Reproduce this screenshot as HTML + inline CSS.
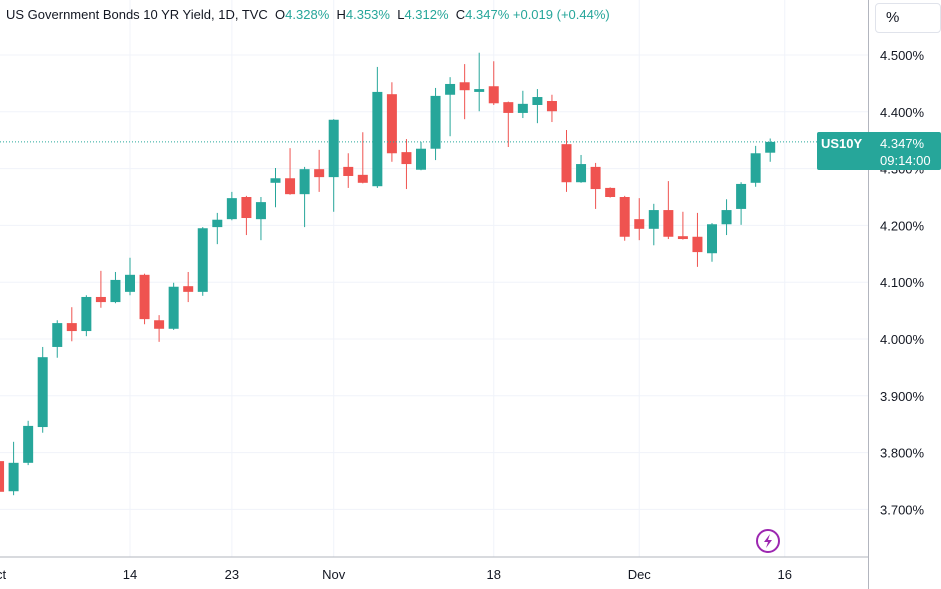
<!DOCTYPE html>
<html><head><meta charset="utf-8">
<style>
html,body{margin:0;padding:0;background:#fff;width:941px;height:589px;overflow:hidden;font-family:"Liberation Sans",sans-serif;}
#wrap{position:relative;width:941px;height:589px;}
svg{position:absolute;left:0;top:0;}
</style></head>
<body>
<div id="wrap">
<svg id="chart" width="941" height="589"></svg>
</div>
<script>
const opens  = [3.785,3.732,3.782,3.845,3.986,4.028,4.014,4.074,4.065,4.083,4.113,4.033,4.018,4.093,4.083,4.197,4.211,4.250,4.211,4.275,4.283,4.255,4.299,4.285,4.303,4.289,4.269,4.431,4.329,4.298,4.335,4.430,4.452,4.435,4.445,4.417,4.398,4.412,4.419,4.343,4.276,4.303,4.266,4.250,4.211,4.194,4.227,4.181,4.180,4.151,4.202,4.229,4.275,4.328];
const closes = [3.731,3.782,3.847,3.968,4.028,4.014,4.074,4.065,4.104,4.113,4.035,4.018,4.092,4.083,4.195,4.210,4.248,4.213,4.241,4.283,4.255,4.299,4.285,4.386,4.287,4.275,4.435,4.327,4.308,4.335,4.428,4.449,4.438,4.440,4.415,4.398,4.414,4.426,4.401,4.276,4.308,4.264,4.250,4.180,4.194,4.227,4.180,4.176,4.153,4.202,4.227,4.273,4.327,4.347];
const highs  = [3.790,3.819,3.856,3.986,4.033,4.056,4.077,4.120,4.118,4.143,4.115,4.042,4.099,4.118,4.197,4.222,4.259,4.252,4.250,4.301,4.336,4.303,4.333,4.387,4.327,4.364,4.479,4.452,4.352,4.347,4.442,4.461,4.484,4.504,4.489,4.418,4.437,4.440,4.430,4.368,4.324,4.310,4.267,4.252,4.248,4.238,4.278,4.224,4.222,4.204,4.246,4.276,4.340,4.353];
const lows   = [3.725,3.725,3.778,3.835,3.967,3.996,4.005,4.055,4.063,4.077,4.026,3.995,4.016,4.065,4.076,4.167,4.209,4.183,4.174,4.232,4.254,4.197,4.259,4.224,4.266,4.274,4.266,4.312,4.264,4.297,4.315,4.357,4.387,4.401,4.412,4.338,4.389,4.380,4.382,4.259,4.275,4.229,4.249,4.173,4.174,4.165,4.176,4.175,4.127,4.136,4.183,4.201,4.268,4.312];
const priceTicks = [3.7,3.8,3.9,4.0,4.1,4.2,4.3,4.4,4.5];
const dateLabels = ["ct","14","23","Nov","18","Dec","16"];
const dateIndex  = [-0.9,9,16,23,34,44,54];

const NS="http://www.w3.org/2000/svg";
const svg=document.getElementById('chart');
const PW=868, AXB=557;
function yScale(p){return 339-(p-4.0)*568;}
function xScale(i){return 130+(i-9)*14.55;}
function mk(tag,attrs,parent){const e=document.createElementNS(NS,tag);for(const k in attrs)e.setAttribute(k,attrs[k]);(parent||svg).appendChild(e);return e;}

const grid=mk('g',{});


priceTicks.forEach(p=>{const y=yScale(p);const l=mk('line',{x1:0,x2:PW,y1:y,y2:y,stroke:'#f0f3fa','stroke-width':1},grid);

});
dateIndex.forEach(i=>{const x=xScale(i);if(x<5)return;const l=mk('line',{x1:x,x2:x,y1:0,y2:AXB,stroke:'#f0f3fa','stroke-width':1},grid);

});

const cg=mk('g',{});


for(let i=0;i<opens.length;i++){
  const up=closes[i]>=opens[i];const col=up?'#26a69a':'#ef5350';
  const x=xScale(i);
  const g=mk('g',{},cg);
  
  
  mk('line',{x1:x,x2:x,y1:yScale(highs[i]),y2:yScale(lows[i]),stroke:col,'stroke-width':1},g);
  const t=yScale(Math.max(opens[i],closes[i])),b=yScale(Math.min(opens[i],closes[i]));
  mk('rect',{x:x-5,y:t,width:10,height:Math.max(1,b-t),fill:col},g);
}

const lp=mk('line',{x1:0,x2:PW,y1:yScale(closes[closes.length-1]),y2:yScale(closes[closes.length-1]),stroke:'#26a69a','stroke-width':1,'stroke-dasharray':'1 2'});



mk('line',{x1:0,x2:PW,y1:AXB,y2:AXB,stroke:'#b2b5be','stroke-width':1});
mk('line',{x1:PW+0.5,x2:PW+0.5,y1:0,y2:589,stroke:'#b2b5be','stroke-width':1});

priceTicks.forEach(p=>{const t=mk('text',{x:880,y:yScale(p)+5,'font-size':13,fill:'#131722'});t.textContent=p.toFixed(3)+'%';

});
dateLabels.forEach((d,k)=>{const x=xScale(dateIndex[k]);const t=mk('text',{x:k==0?-4:x,y:579,'font-size':13,fill:'#131722','text-anchor':k==0?'start':'middle'});t.textContent=d;

});

const badge=mk('g',{});


mk('rect',{x:817,y:132,width:124,height:38,fill:'#26a69a',rx:2},badge);
mk('text',{x:821,y:148,'font-size':13,'font-weight':'bold',fill:'#fff'},badge).textContent='US10Y';
mk('text',{x:880,y:148,'font-size':13,fill:'#fff'},badge).textContent='4.347%';
mk('text',{x:880,y:165,'font-size':13,fill:'#fff'},badge).textContent='09:14:00';

const ic=mk('g',{});


mk('circle',{cx:768,cy:541,r:11,fill:'#fff',stroke:'#9c27b0','stroke-width':2},ic);
mk('path',{d:'M770 534 L764 542 L768 542 L766 548 L772 540 L768 540 Z',fill:'#9c27b0'},ic);
</script>
<div style="position:absolute;left:6px;top:7px;font-size:13px;color:#131722;white-space:nowrap;">US Government Bonds 10 YR Yield, 1D, TVC &nbsp;O<span style="color:#26a69a">4.328%</span> &nbsp;H<span style="color:#26a69a">4.353%</span> &nbsp;L<span style="color:#26a69a">4.312%</span> &nbsp;C<span style="color:#26a69a">4.347%</span> <span style="color:#26a69a">+0.019 (+0.44%)</span></div>
<div style="position:absolute;left:875px;top:3px;width:66px;height:30px;border:1px solid #e0e3eb;border-radius:4px;box-sizing:border-box;font-size:15px;color:#131722;padding:5px 0 0 10px;">%</div>
</body></html>
